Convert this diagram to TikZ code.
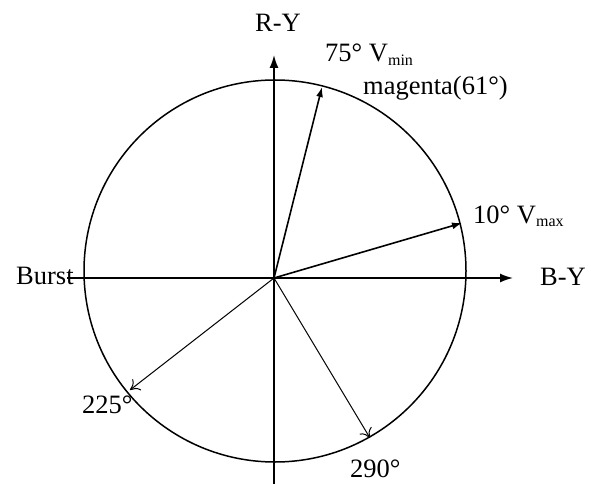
\documentclass[tikz,border=0pt]{standalone}
\usepackage{fontspec}
\setmainfont{Liberation Serif}
\usetikzlibrary{arrows.meta}
\newcommand{\vsub}[1]{\raisebox{-0.3ex}{\fontsize{16}{16}\selectfont #1}}

\begin{document}
\begin{tikzpicture}[x=1pt, y=-1pt, font=\fontsize{26.5}{30}\selectfont,
  lbl/.style={inner sep=0pt, anchor=base west},
  axis/.style={line width=1.6pt, -{Latex[length=13pt,width=9pt]}},
  bold vec/.style={line width=1.6pt, -{Latex[length=10pt,width=7pt]}},
  thin vec/.style={line width=1pt, -{To[length=9pt,width=14pt]}}]
\useasboundingbox (0,0) rectangle (591,484);
% Axes
\coordinate (O) at (274,278);
\coordinate (xl) at (67,278);
\coordinate (xr) at (513,278);
\coordinate (yb) at (274,484);
\coordinate (yt) at (274,55);
\draw[axis] (xl) -- (xr);
\draw[axis] (yb) -- (yt);
% Circle
\coordinate (C) at (275,271);
\draw[line width=1.5pt] (C) circle (191pt);
% Vectors
\coordinate (v75) at (322,87);
\coordinate (v10) at (462,223);
\coordinate (v225) at (130,390);
\coordinate (v290) at (370,438);
\draw[bold vec] (O) -- (v75);
\draw[bold vec] (O) -- (v10);
\draw[thin vec] (O) -- (v225);
\draw[thin vec] (O) -- (v290);
% Labels
\node[lbl] (ry) at (255,32) {R-Y};
\node[lbl] (vmin) at (325,62) {75° V\vsub{min}};
\node[lbl] (mag) at (363,95) {magenta(61°)};
\node[lbl] (vmax) at (473,223) {10° V\vsub{max}};
\node[lbl] (by) at (540,285) {B-Y};
\node[lbl] (burst) at (16,284) {Burst};
\node[lbl] (d225) at (82,413) {225°};
\node[lbl] (d290) at (350,477) {290°};
\end{tikzpicture}
\end{document}
